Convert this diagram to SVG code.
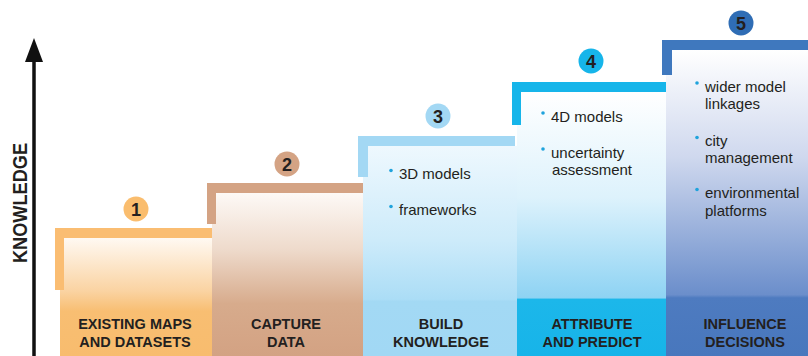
<svg xmlns="http://www.w3.org/2000/svg" width="808" height="356" viewBox="0 0 808 356">
<style>
.lbl{font-family:"Liberation Sans",Arial,sans-serif;font-weight:bold;font-size:14.5px;fill:#231F20;text-anchor:middle}
.num{font-family:"Liberation Sans",Arial,sans-serif;font-weight:bold;font-size:18px;fill:#231F20;text-anchor:middle}
.bul{font-family:"Liberation Sans",Arial,sans-serif;font-size:15px;fill:#231F20}
.dot{fill:#1FA3DC}
</style>
<defs>
<linearGradient id="g1" gradientUnits="userSpaceOnUse" x1="0" y1="238" x2="0" y2="356">
<stop offset="0" stop-color="#FFF9F2"/><stop offset="0.45" stop-color="#FAD3A2"/><stop offset="0.62" stop-color="#F8BE72"/><stop offset="1" stop-color="#F8BC6E"/>
</linearGradient>
<linearGradient id="g2" gradientUnits="userSpaceOnUse" x1="0" y1="193" x2="0" y2="356">
<stop offset="0" stop-color="#FDF9F6"/><stop offset="0.35" stop-color="#EEDACB"/><stop offset="0.68" stop-color="#D7AB8C"/><stop offset="1" stop-color="#D3A283"/>
</linearGradient>
<linearGradient id="g3" gradientUnits="userSpaceOnUse" x1="0" y1="146" x2="0" y2="356">
<stop offset="0" stop-color="#EEF8FE"/><stop offset="0.45" stop-color="#CDEBFA"/><stop offset="0.73" stop-color="#ABDDF6"/><stop offset="0.74" stop-color="#A3D9F4"/><stop offset="1" stop-color="#A1D8F4"/>
</linearGradient>
<linearGradient id="g4" gradientUnits="userSpaceOnUse" x1="0" y1="92" x2="0" y2="356">
<stop offset="0" stop-color="#FFFFFF"/><stop offset="0.4" stop-color="#DDF2FC"/><stop offset="0.78" stop-color="#8ED3F3"/><stop offset="0.785" stop-color="#1CB7EA"/><stop offset="1" stop-color="#17B4E9"/>
</linearGradient>
<linearGradient id="g5" gradientUnits="userSpaceOnUse" x1="0" y1="50" x2="0" y2="356">
<stop offset="0" stop-color="#FFFFFF"/><stop offset="0.35" stop-color="#CFD8EE"/><stop offset="0.8" stop-color="#6B8ECB"/><stop offset="0.81" stop-color="#4E7BC0"/><stop offset="1" stop-color="#4877BD"/>
</linearGradient>
</defs>

<g id="axis">
<line x1="34" y1="60" x2="34" y2="356" stroke="#111" stroke-width="3.5"/>
<polygon points="34,38 25,62 43,62" fill="#111"/>
<text transform="translate(27,203) rotate(-90)" font-family="Liberation Sans,Arial,sans-serif" font-weight="bold" font-size="20" fill="#231F20" text-anchor="middle" textLength="120" lengthAdjust="spacingAndGlyphs">KNOWLEDGE</text>
</g>

<g id="step1">
<rect x="60" y="238" width="152" height="118" fill="url(#g1)"/>
<path d="M55 228H212V238H64V290H55Z" fill="#FABD72"/>
<circle cx="136" cy="209" r="12.5" fill="#FABD6E"/>
<text class="num" x="136" y="215.5">1</text>
<text class="lbl" x="135" y="329">EXISTING MAPS</text>
<text class="lbl" x="135" y="347">AND DATASETS</text>
</g>

<g id="step2">
<rect x="212" y="193" width="151" height="163" fill="url(#g2)"/>
<path d="M207 183H363V193H216V224H207Z" fill="#D4A384"/>
<circle cx="287" cy="164" r="12.5" fill="#D4A384"/>
<text class="num" x="287" y="170.5">2</text>
<text class="lbl" x="286" y="329">CAPTURE</text>
<text class="lbl" x="286" y="347">DATA</text>
</g>

<g id="step3">
<rect x="363" y="146" width="154" height="210" fill="url(#g3)"/>
<path d="M358 136H515V146H368V177H358Z" fill="#A3D8F4"/>
<circle cx="438" cy="116" r="12.5" fill="#A3D8F4"/>
<text class="num" x="438" y="122.5">3</text>
<circle class="dot" cx="391" cy="170.5" r="1.8"/>
<text class="bul" x="399" y="179">3D models</text>
<circle class="dot" cx="391" cy="206.5" r="1.8"/>
<text class="bul" x="399" y="215">frameworks</text>
<text class="lbl" x="441" y="329">BUILD</text>
<text class="lbl" x="441" y="347">KNOWLEDGE</text>
</g>

<g id="step4">
<rect x="517" y="92" width="149" height="264" fill="url(#g4)"/>
<path d="M512 82H668V92H521V125H512Z" fill="#16B5EA"/>
<circle cx="591" cy="61" r="12.5" fill="#16B5EA"/>
<text class="num" x="591" y="67.5">4</text>
<circle class="dot" cx="543" cy="113" r="1.8"/>
<text class="bul" x="551" y="122">4D models</text>
<circle class="dot" cx="543" cy="149" r="1.8"/>
<text class="bul" x="551" y="158">uncertainty</text>
<text class="bul" x="552" y="175">assessment</text>
<text class="lbl" x="592" y="329">ATTRIBUTE</text>
<text class="lbl" x="592" y="347">AND PREDICT</text>
</g>

<g id="step5">
<rect x="666" y="50" width="142" height="306" fill="url(#g5)"/>
<path d="M662 40H808V50H672V75H662Z" fill="#3F78BE"/>
<circle cx="741" cy="23" r="12.5" fill="#2F6DB5"/>
<text class="num" x="741" y="29.5">5</text>
<circle class="dot" cx="697" cy="83" r="1.8"/>
<text class="bul" x="705" y="92">wider model</text>
<text class="bul" x="705" y="109">linkages</text>
<circle class="dot" cx="697" cy="137.5" r="1.8"/>
<text class="bul" x="705" y="146">city</text>
<text class="bul" x="705" y="163">management</text>
<circle class="dot" cx="697" cy="189.5" r="1.8"/>
<text class="bul" x="705" y="198">environmental</text>
<text class="bul" x="705" y="216">platforms</text>
<text class="lbl" x="745" y="329">INFLUENCE</text>
<text class="lbl" x="745" y="347">DECISIONS</text>
</g>

<g id="connectors"></g>
</svg>
